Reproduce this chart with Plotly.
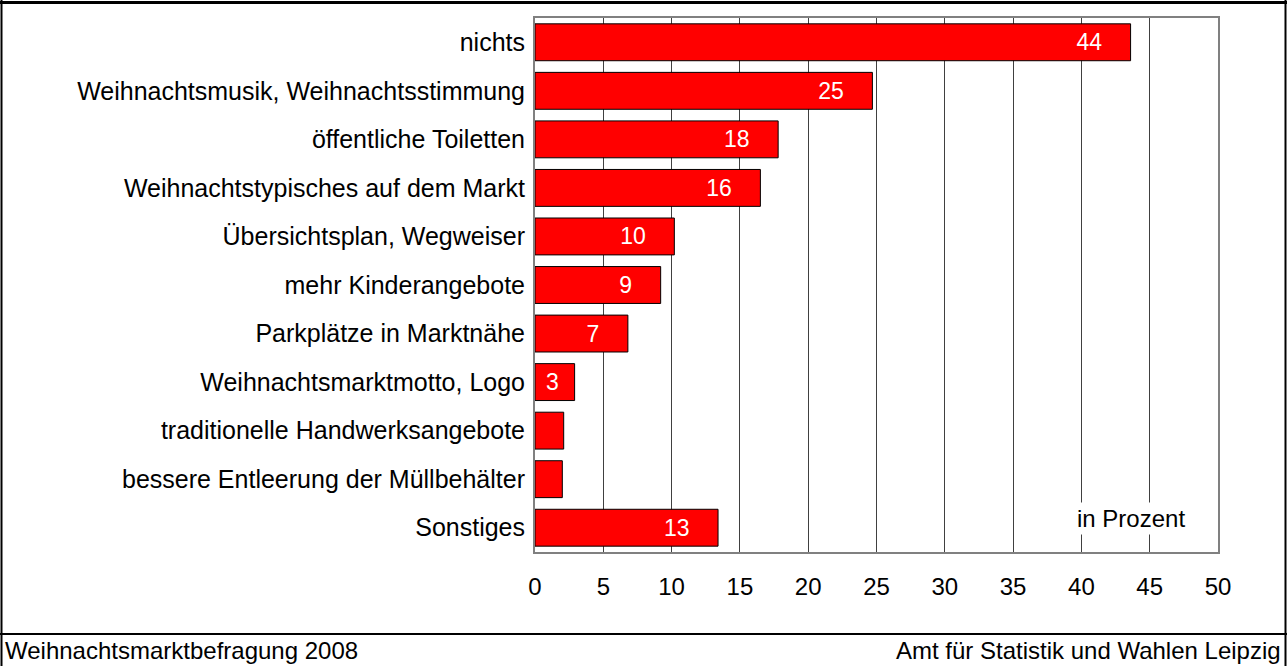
import plotly.graph_objects as go

W, H = 1287, 666

categories = [
    "nichts",
    "Weihnachtsmusik, Weihnachtsstimmung",
    "öffentliche Toiletten",
    "Weihnachtstypisches auf dem Markt",
    "Übersichtsplan, Wegweiser",
    "mehr Kinderangebote",
    "Parkplätze in Marktnähe",
    "Weihnachtsmarktmotto, Logo",
    "traditionelle Handwerksangebote",
    "bessere Entleerung der Müllbehälter",
    "Sonstiges",
]
values = [43.6, 24.7, 17.8, 16.5, 10.2, 9.2, 6.8, 2.9, 2.1, 2.0, 13.4]
labels = ["44", "25", "18", "16", "10", "9", "7", "3", "", "", "13"]
x_ticks = [0, 5, 10, 15, 20, 25, 30, 35, 40, 45, 50]

FONT = "Liberation Sans, Arial, sans-serif"
RED = "#FF0000"
NBSP = "\u00a0"


def px(x):
    return x / W


def py(y):
    return 1 - y / H


# Excel puts "inside end" labels a bit away from the bar end
bar_text = [lab + NBSP * (2 if v < 5 else 4) if lab else "" for lab, v in zip(labels, values)]

fig = go.Figure(go.Bar(
    x=values, y=categories, orientation="h",
    marker=dict(color=RED, line=dict(color="#000000", width=1)),
    text=bar_text, textposition="inside", insidetextanchor="end",
    textfont=dict(color="white", size=23, family=FONT),
    cliponaxis=False,
))


def note(text, x, y, anchor="center", **kw):
    return dict(text=text, x=px(x), y=py(y), xref="paper", yref="paper",
                xanchor=anchor, yanchor="middle", showarrow=False,
                font=dict(size=24, color="black"), **kw)


def hline(y, width=2):
    return dict(type="line", xref="paper", yref="paper", x0=0, x1=1,
                y0=py(y), y1=py(y), line=dict(color="black", width=width))


def vline(x, width=2):
    return dict(type="line", xref="paper", yref="paper", x0=px(x), x1=px(x),
                y0=0, y1=1, line=dict(color="black", width=width))


fig.update_layout(
    width=W, height=H,
    margin=dict(l=0, r=0, t=0, b=0),
    paper_bgcolor="white", plot_bgcolor="white",
    font=dict(family=FONT, color="black", size=24),
    bargap=0.24, showlegend=False,
    xaxis=dict(
        domain=[px(535), px(1218)], range=[0, 50],
        tickvals=x_ticks, ticks="", automargin=False,
        showgrid=True, gridcolor="#404040", gridwidth=1,
        showline=True, linecolor="#808080", linewidth=2, mirror=True,
        zeroline=False, ticklabelstandoff=12,
        tickfont=dict(size=24, color="black"),
    ),
    yaxis=dict(
        domain=[py(552), py(18)], autorange="reversed",
        ticks="", automargin=False,
        showline=True, linecolor="#808080", linewidth=2, mirror=True,
        showgrid=False, ticklabelstandoff=3,
        tickfont=dict(size=25, color="black"),
    ),
    annotations=[
        note("in Prozent", 1131, 518, bgcolor="white", borderpad=2),
        note("Weihnachtsmarktbefragung 2008", 3, 650, anchor="left"),
        note("Amt für Statistik und Wahlen Leipzig", 1283, 650, anchor="right"),
    ],
    # outer frame and footer separator
    shapes=[hline(2.5, 3), vline(1.5), vline(1285.5), hline(634)],
)

fig.write_html("out.html", config={"displayModeBar": False},
               post_script="document.body.style.margin='0';")
